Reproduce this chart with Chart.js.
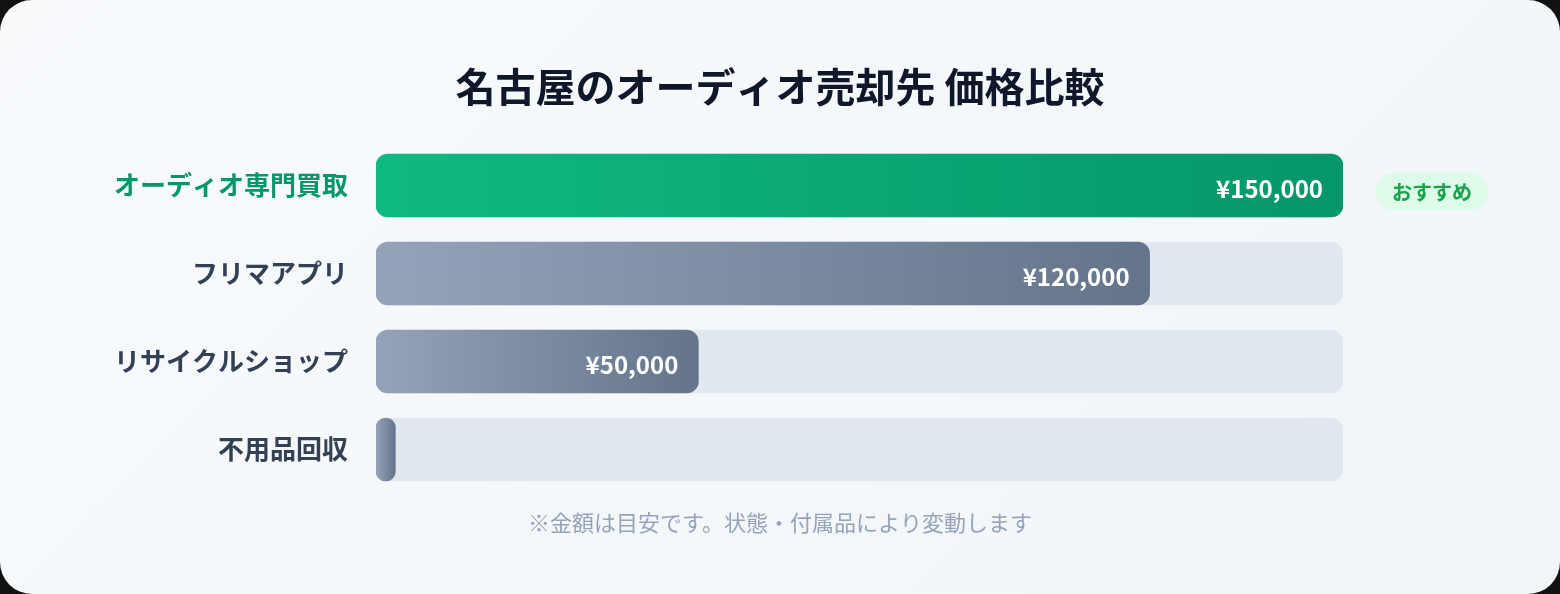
<!DOCTYPE html>
<html lang="ja">
<head>
<meta charset="utf-8">
<title>名古屋のオーディオ売却先 価格比較</title>
<script src="https://cdn.jsdelivr.net/npm/chart.js@4.4.1/dist/chart.umd.min.js"></script>
<style>
  html, body { margin: 0; padding: 0; background: #111; }
  .card {
    width: 1560px; height: 594px;
    border-radius: 32px;
    overflow: hidden;
    background: linear-gradient(135deg, #f8fafc 0%, #f1f5f9 100%);
  }
  canvas { display: block; }
</style>
</head>
<body>
<div class="card">
  <canvas id="price-bar" width="1560" height="594"></canvas>
</div>
<script>
// data
var categories = ["オーディオ専門買取", "フリマアプリ", "リサイクルショップ", "不用品回収"];
var prices = [150000, 120000, 50000, 3000];
var scaleMax = 150000;
var badgeText = "おすすめ";
var titleText = "名古屋のオーディオ売却先 価格比較";
var noteText = "※金額は目安です。状態・付属品により変動します";

var FONT = "'Noto Sans CJK JP', 'Noto Sans', sans-serif";
var tracks = categories.map(function() { return scaleMax; });

function barGradient(c) {
  var chart = c.chart;
  var first = c.dataIndex === 0;
  var from = first ? "#10b981" : "#94a3b8";
  var to = first ? "#059669" : "#64748b";
  if (!chart.chartArea || !chart.scales.x) return to;
  var x0 = chart.scales.x.getPixelForValue(0);
  var x1 = chart.scales.x.getPixelForValue(c.raw);
  if (x1 - x0 < 1) return to;
  var g = chart.ctx.createLinearGradient(x0, 0, x1, 0);
  g.addColorStop(0, from);
  g.addColorStop(1, to);
  return g;
}

// yen labels inside the bars + the badge next to the first bar
var barExtras = {
  id: "barExtras",
  afterDatasetsDraw: function(chart) {
    var ctx = chart.ctx;
    var meta = chart.getDatasetMeta(0);
    ctx.save();
    ctx.font = "bold 24px " + FONT;
    ctx.fillStyle = "#ffffff";
    ctx.textAlign = "right";
    ctx.textBaseline = "middle";
    meta.data.forEach(function(bar, i) {
      var txt = "¥" + prices[i].toLocaleString("en-US");
      var w = ctx.measureText(txt).width;
      var left = chart.scales.x.getPixelForValue(0);
      if (bar.x - left > w + 40) {
        ctx.fillText(txt, bar.x - 20, bar.y + 3);
      }
    });
    // badge
    var b = meta.data[0];
    var bx = chart.scales.x.getPixelForValue(scaleMax) + 33;
    var bw = 112, bh = 38;
    ctx.beginPath();
    ctx.roundRect(bx, b.y + 6 - bh / 2, bw, bh, bh / 2);
    ctx.fillStyle = "#dcfce7";
    ctx.fill();
    ctx.font = "bold 20px " + FONT;
    ctx.fillStyle = "#16a34a";
    ctx.textAlign = "center";
    ctx.fillText(badgeText, bx + bw / 2, b.y + 7);
    ctx.restore();
  }
};

new Chart(document.getElementById("price-bar"), {
  type: "bar",
  data: {
    labels: categories,
    datasets: [
      {
        label: "価格",
        data: prices,
        backgroundColor: barGradient,
        borderRadius: 12,
        borderSkipped: false,
        barThickness: 63,
        grouped: false,
        order: 0
      },
      {
        label: "track",
        data: tracks,
        backgroundColor: "#e2e8f0",
        borderRadius: 12,
        borderSkipped: false,
        barThickness: 63,
        grouped: false,
        order: 1
      }
    ]
  },
  options: {
    indexAxis: "y",
    responsive: false,
    animation: false,
    layout: { padding: 0 },
    scales: {
      x: { display: false, min: 0, max: scaleMax },
      y: {
        position: "left",
        afterFit: function(s) { s.width = 376; },
        grid: { display: false, drawTicks: false },
        border: { display: false },
        ticks: {
          padding: 28,
          color: function(c) { return c.index === 0 ? "#059669" : "#334155"; },
          font: function(c) {
            return c.index === 0
              ? { family: FONT, size: 26, weight: "bold" }
              : { family: FONT, size: 26, weight: "600" };
          }
        }
      },
      yRight: {
        type: "category",
        position: "right",
        afterFit: function(s) { s.width = 217; },
        grid: { display: false, drawTicks: false },
        border: { display: false },
        ticks: { display: false }
      }
    },
    plugins: {
      legend: { display: false },
      tooltip: { enabled: false },
      title: {
        display: true,
        text: titleText,
        color: "#0f172a",
        font: { family: FONT, size: 40, weight: "bold" },
        padding: { top: 63, bottom: 30.5 }
      },
      subtitle: {
        display: true,
        position: "bottom",
        text: noteText,
        color: "#94a3b8",
        font: { family: FONT, size: 22, weight: "normal" },
        padding: { top: 16.3, bottom: 57.8 }
      }
    }
  },
  plugins: [barExtras]
});
</script>
</body>
</html>
